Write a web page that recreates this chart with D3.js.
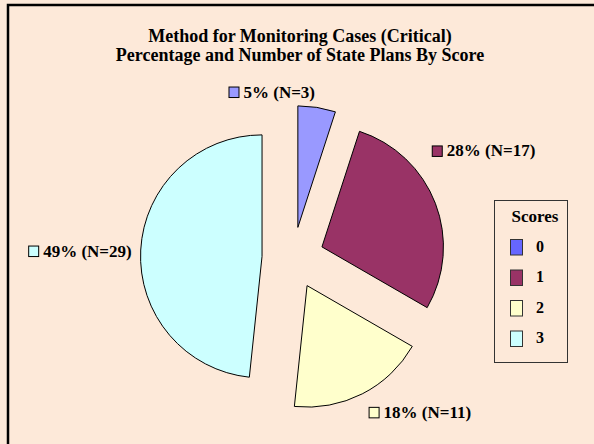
<!DOCTYPE html>
<html lang="en">
<head>
    <meta charset="utf-8">
    <title>Method for Monitoring Cases (Critical)</title>
    <script type="text/javascript" src="https://cdn.jsdelivr.net/npm/d3@7"></script>
    <style>
        body { margin: 0; background: #fde9d9; }
        svg { display: block; }
    </style>
</head>
<body>
<div id="graph"></div>
<script type="text/javascript">
    // chart data
    var scores = ["0", "1", "2", "3"];
    var counts = [3, 17, 11, 29];
    var percentLabels = ["5%", "28%", "18%", "49%"];
    var titleLines = ["Method for Monitoring Cases (Critical)",
                      "Percentage and Number of State Plans By Score"];

    var w = 594;
    var h = 444;
    var cx = 293, cy = 258;
    var radius = 121.5;
    var explode = 31;
    var font = "'Liberation Serif', 'Times New Roman', serif";

    var sliceColors = ["#9999ff", "#993366", "#ffffcc", "#ccffff"];
    var legendColors = ["#6666ff", "#993366", "#ffffcc", "#ccffff"];

    // label placement: angle tweak (deg), distance past the rim, which side of the box sits on the anchor
    var labelTurn = [-1.4, -20, 0, 0];
    var labelGap = [8.5, 24, 14, 9];
    var labelAlignX = [1, 0, 0, 1];
    var labelBase = [-1, 5, 11.5, 7];

    var svg = d3.select("#graph")
        .append("svg")
        .attr("width", w)
        .attr("height", h);

    svg.append("rect")
        .attr("x", 0).attr("y", 0)
        .attr("width", w).attr("height", h)
        .attr("fill", "#fde9d9");

    // chart frame, only top and left edges fall inside the picture
    svg.append("rect")
        .attr("x", 8).attr("y", 5)
        .attr("width", w + 20).attr("height", h + 20)
        .attr("fill", "none")
        .attr("stroke", "#000")
        .attr("stroke-width", 2.5);

    var title = svg.append("text")
        .attr("text-anchor", "middle")
        .style("font-family", font)
        .style("font-weight", "bold")
        .style("font-size", "18px");
    title.selectAll("tspan")
        .data(titleLines)
        .enter()
        .append("tspan")
        .attr("x", 300)
        .attr("y", function (d, i) { return 42 + i * 19; })
        .text(function (d) { return d; });

    var pie = d3.pie().sort(null).value(function (d) { return d; });
    var arcs = pie(counts);

    var arc = d3.arc().innerRadius(0).outerRadius(radius);

    function midAngle(a) { return (a.startAngle + a.endAngle) / 2; }

    var slices = svg.selectAll("g.slice")
        .data(arcs)
        .enter()
        .append("g")
        .attr("class", "slice")
        .attr("transform", function (d) {
            var m = midAngle(d);
            return "translate(" + (cx + explode * Math.sin(m)) + "," + (cy - explode * Math.cos(m)) + ")";
        });

    slices.append("path")
        .attr("d", arc)
        .attr("fill", function (d, i) { return sliceColors[i]; })
        .attr("stroke", "#000")
        .attr("stroke-width", 1);

    // data labels with a little colour key in front
    arcs.forEach(function (d, i) {
        var m = midAngle(d);
        var ox = cx + explode * Math.sin(m);
        var oy = cy - explode * Math.cos(m);
        var t = m + labelTurn[i] * Math.PI / 180;
        var rr = radius + labelGap[i];
        var px = ox + rr * Math.sin(t);
        var py = oy - rr * Math.cos(t);

        var g = svg.append("g");
        g.append("rect")
            .attr("x", 0.5).attr("y", -10.5)
            .attr("width", 10).attr("height", 10.5)
            .attr("fill", sliceColors[i])
            .attr("stroke", "#000")
            .attr("stroke-width", 1);
        var txt = g.append("text")
            .attr("x", 15).attr("y", 0)
            .style("font-family", font)
            .style("font-weight", "bold")
            .style("font-size", "17px")
            .text(percentLabels[i] + " (N=" + counts[i] + ")");
        var bw = 15 + txt.node().getComputedTextLength();

        g.attr("transform", "translate(" + (px - labelAlignX[i] * bw) + "," + (py + labelBase[i]) + ")");
    });

    // legend
    var legend = svg.append("g").attr("transform", "translate(494,200)");
    legend.append("rect")
        .attr("x", 0.5).attr("y", 0.5)
        .attr("width", 73).attr("height", 162)
        .attr("fill", "#fde9d9")
        .attr("stroke", "#333")
        .attr("stroke-width", 1);
    legend.append("text")
        .attr("x", 41).attr("y", 21.5)
        .attr("text-anchor", "middle")
        .style("font-family", font)
        .style("font-weight", "bold")
        .style("font-size", "17px")
        .text("Scores");

    var items = legend.selectAll("g.item")
        .data(scores)
        .enter()
        .append("g")
        .attr("class", "item")
        .attr("transform", function (d, i) { return "translate(16," + (39 + i * 30.5) + ")"; });
    items.append("rect")
        .attr("x", 0.5).attr("y", 0.5)
        .attr("width", 12).attr("height", 15.5)
        .attr("fill", function (d, i) { return legendColors[i]; })
        .attr("stroke", "#333")
        .attr("stroke-width", 1);
    items.append("text")
        .attr("x", 26).attr("y", 12.7)
        .style("font-family", font)
        .style("font-weight", "bold")
        .style("font-size", "16px")
        .text(function (d) { return d; });
</script>
</body>
</html>
